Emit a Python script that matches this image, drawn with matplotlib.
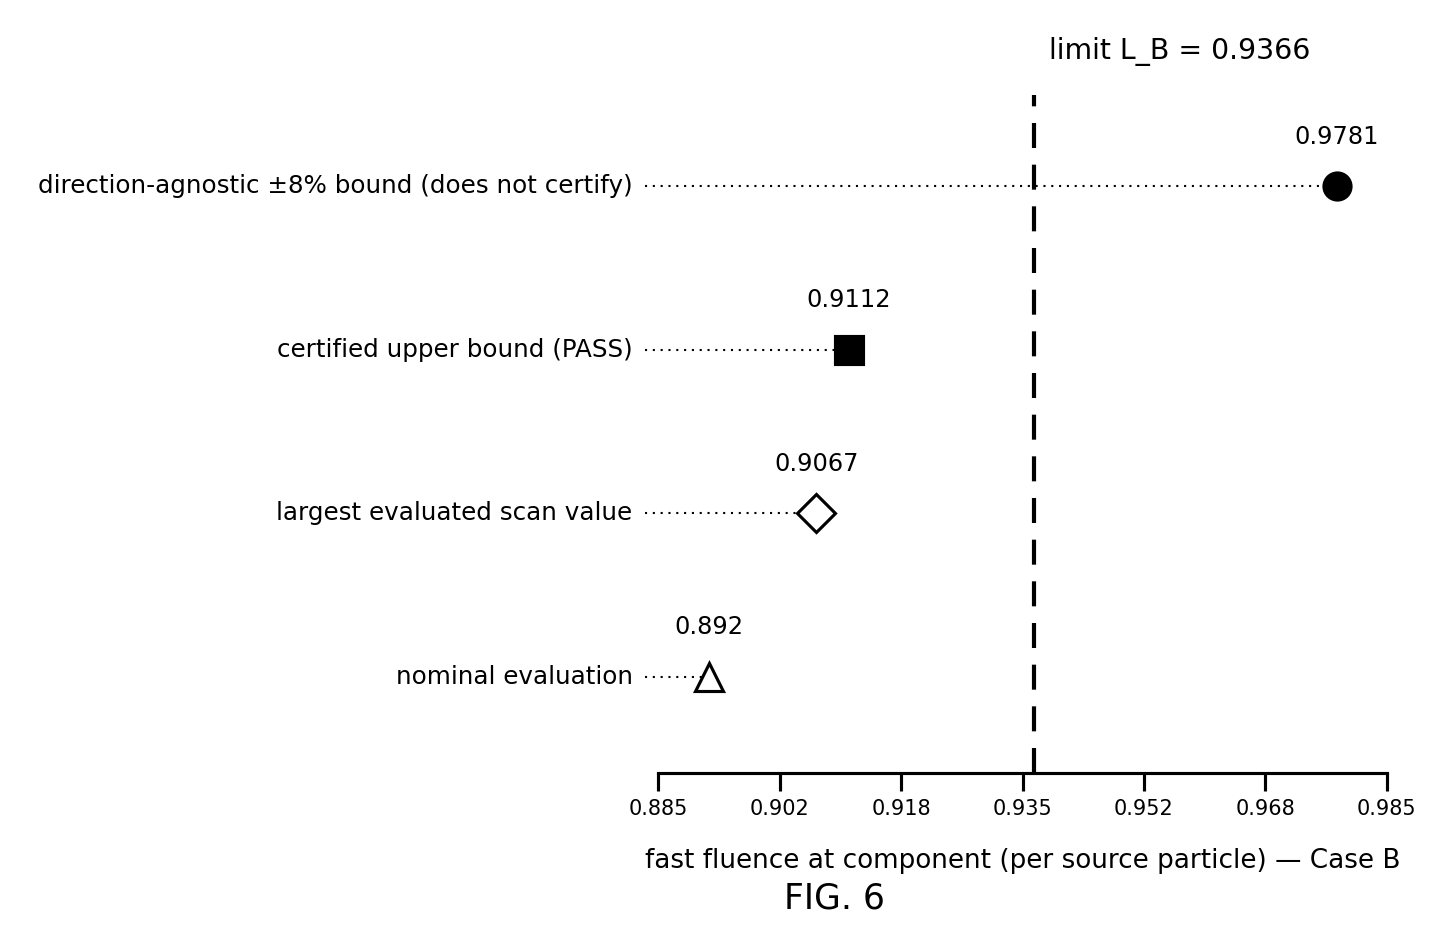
import numpy as np
import matplotlib
matplotlib.use("Agg")
import matplotlib.pyplot as plt
from matplotlib.transforms import ScaledTranslation

# rows bottom -> top
labels = ["nominal evaluation",
          "largest evaluated scan value",
          "certified upper bound (PASS)",
          "direction-agnostic \u00b18% bound (does not certify)"]
values = [0.892, 0.9067, 0.9112, 0.9781]
markers = ["^", "D", "s", "o"]
fills = ["white", "white", "black", "black"]
limit_LB = 0.9366
x_lo, x_hi = 0.885, 0.985
n_ticks = 7

fig = plt.figure(figsize=(9.68, 9.49 / 1.5), dpi=150)
ax = fig.add_axes([645 / 1452, 1 - 773 / 949, (1400 - 645) / 1452, (773 - 95) / 949])

pad = 0.0018
ax.set_xlim(x_lo - pad, x_hi + pad)
ax.set_ylim(-0.587, 3.557)

ypos = np.arange(len(values))
for y, v, m, fc in zip(ypos, values, markers, fills):
    ax.plot([x_lo - pad, v], [y, y], color="black", lw=1.0, ls=(0, (1, 2.75)), zorder=2)
    ax.plot(v, y, marker=m, ms=13, mfc=fc, mec="black", mew=1.5, ls="none", zorder=4)
    ax.annotate(f"{v:.4g}", (v, y), xytext=(0, 18), textcoords="offset points",
                ha="center", va="bottom", fontsize=11.6)

ax.axvline(limit_LB, color="black", lw=2, ls=(0, (6, 4)), zorder=3)
ax.annotate(f"limit L_B = {limit_LB}", (limit_LB, 1), xycoords=("data", "axes fraction"),
            xytext=(7, 14), textcoords="offset points", ha="left", va="bottom",
            fontsize=13.6)

ax.set_yticks(ypos)
ax.set_yticklabels(labels, fontsize=11.8)
ax.tick_params(axis="y", length=0, pad=6)
# nudge the row labels up a little
for lbl in ax.get_yticklabels():
    lbl.set_transform(lbl.get_transform() + ScaledTranslation(0, 1.3 / 72, fig.dpi_scale_trans))

ticks = np.linspace(x_lo, x_hi, n_ticks)
ax.set_xticks(ticks)
ax.set_xticklabels([f"{t:.3f}" for t in ticks], fontsize=10)
ax.tick_params(axis="x", length=8.5, width=1.5, direction="out", pad=4)

for s in ["top", "right", "left"]:
    ax.spines[s].set_visible(False)
ax.spines["bottom"].set_linewidth(1.5)
ax.spines["bottom"].set_bounds(x_lo, x_hi)

ax.set_xlabel("fast fluence at component (per source particle) \u2014 Case B",
              fontsize=12.6, labelpad=14)

fig.text(834 / 1452, 1 - 898 / 949, "FIG. 6", ha="center", va="center", fontsize=16.6)

fig.savefig("out.png", dpi=150)
